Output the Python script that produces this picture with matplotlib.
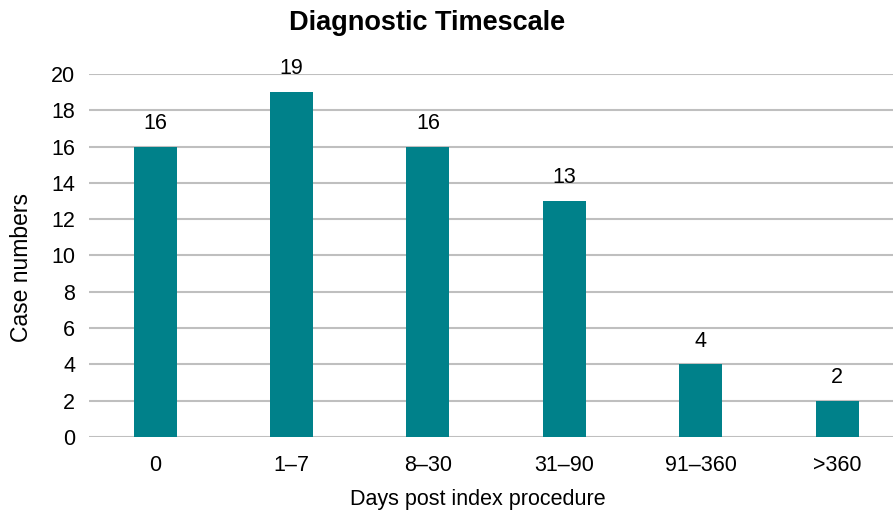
import matplotlib.pyplot as plt
import numpy as np

plt.rcParams['font.family'] = ['Liberation Sans', 'DejaVu Sans']

categories = ['0', '1\u20137', '8\u201330', '31\u201390', '91\u2013360', '>360']
cases = [16, 19, 16, 13, 4, 2]

fig = plt.figure(figsize=(8.93, 5.14), dpi=100)
ax = fig.add_axes([89 / 893, 1 - 437 / 514, 1 - 89 / 893, (437 - 74) / 514])

x = np.arange(len(categories))
bars = ax.bar(x, cases, width=0.315, color='#00818A', zorder=3)
for xi, v in zip(x, cases):
    ax.text(xi, v + 0.7, str(v), ha='center', va='bottom', fontsize=15.5)

ax.set_xlim(-0.484, 5.41)
ax.set_ylim(0, 20)
ax.set_yticks(range(0, 21, 2))
ax.set_xticks(x)
ax.set_xticklabels(categories)
ax.tick_params(axis='both', length=0, labelsize=15.5)
ax.tick_params(axis='x', pad=13)
ax.tick_params(axis='y', pad=10)
ax.yaxis.grid(True, color='#BFBFBF', linewidth=1.5, zorder=0)
for s in ax.spines.values():
    s.set_visible(False)

# axis titles placed in figure pixels
fig.text(478 / 893, 1 - 500 / 514, 'Days post index procedure', ha='center', va='center',
         fontsize=15.5)
fig.text(22 / 893, 1 - 268 / 514, 'Case numbers', ha='center', va='center',
         rotation=90, fontsize=16.5)
fig.text(427 / 893, 1 - 23 / 514, 'Diagnostic Timescale', ha='center', va='center',
         fontsize=19.5, fontweight='bold')

fig.savefig('out.png', dpi=100)
